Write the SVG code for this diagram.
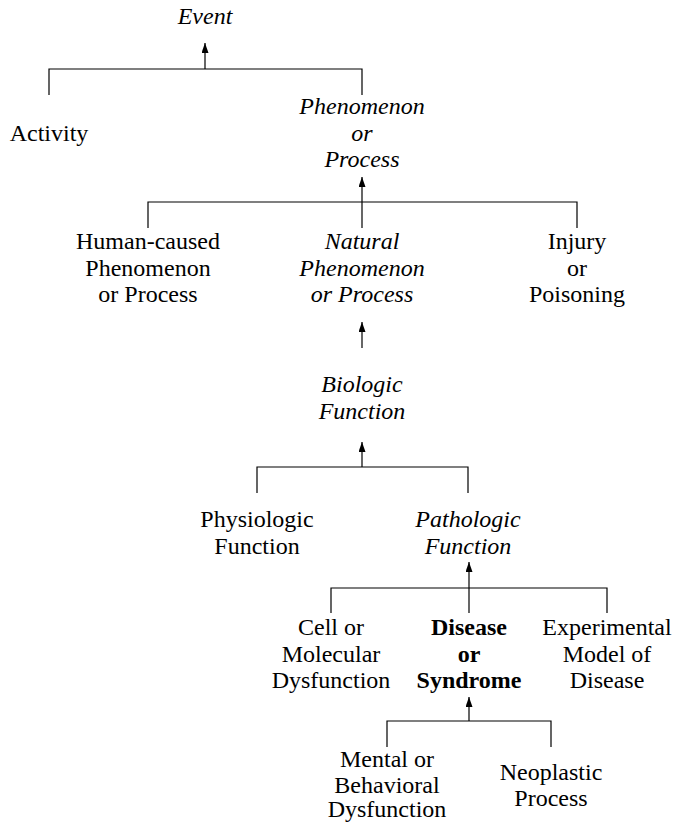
<svg xmlns="http://www.w3.org/2000/svg" width="674" height="823" viewBox="0 0 674 823">
  <style>
    .lbl text { font-size: 24px; fill: #000; text-anchor: middle; }
    .it { font-style: italic; }
    .bf { font-weight: bold; }
    .edge { fill: none; stroke: #000; stroke-width: 1.2; }
    .arrow { fill: none; stroke: #000; stroke-width: 1.2; marker-end: url(#head); }
  </style>
  <defs>
    <marker id="head" viewBox="0 0 10 7" refX="10" refY="3.5" markerWidth="10" markerHeight="7" orient="auto" markerUnits="userSpaceOnUse">
      <path d="M0,0 L10,3.5 L0,7 z" fill="#000"/>
    </marker>
  </defs>

  <g id="connectors">
    <!-- Event <- Activity, Phenomenon or Process -->
    <path class="edge" d="M49,95 V69 H362 V95"/>
    <path class="arrow" d="M205,69 V43"/>
    <!-- Phenomenon or Process <- three children -->
    <path class="edge" d="M148,228 V202 H577 V228"/>
    <path class="arrow" d="M362,228 V177"/>
    <!-- Natural Phenomenon -> Biologic Function link -->
    <path class="arrow" d="M362,348 V322"/>
    <!-- Biologic Function <- two children -->
    <path class="edge" d="M257,493 V467 H468 V493"/>
    <path class="arrow" d="M362,467 V442"/>
    <!-- Pathologic Function <- three children -->
    <path class="edge" d="M331,613 V588 H607 V613"/>
    <path class="arrow" d="M469,613 V562"/>
    <!-- Disease or Syndrome <- two children -->
    <path class="edge" d="M387,747 V721 H551 V747"/>
    <path class="arrow" d="M469,721 V697"/>
  </g>

  <g class="lbl" font-family="'Liberation Serif', 'DejaVu Serif', serif">
  <g id="event"><text class="it" x="205" y="24">Event</text></g>
  <g id="activity"><text x="49" y="141">Activity</text></g>
  <g id="phenomenon-or-process">
    <text class="it" x="362" y="114">Phenomenon</text>
    <text class="it" x="362" y="140.5">or</text>
    <text class="it" x="362" y="167">Process</text>
  </g>

  <g id="human-caused">
    <text x="148" y="249">Human-caused</text>
    <text x="148" y="275.5">Phenomenon</text>
    <text x="148" y="302">or Process</text>
  </g>
  <g id="natural-phenomenon">
    <text class="it" x="362" y="249">Natural</text>
    <text class="it" x="362" y="275.5">Phenomenon</text>
    <text class="it" x="362" y="302">or Process</text>
  </g>
  <g id="injury-or-poisoning">
    <text x="577" y="249">Injury</text>
    <text x="577" y="275.5">or</text>
    <text x="577" y="302">Poisoning</text>
  </g>

  <g id="biologic-function">
    <text class="it" x="362" y="392">Biologic</text>
    <text class="it" x="362" y="418.5">Function</text>
  </g>

  <g id="physiologic-function">
    <text x="257" y="527">Physiologic</text>
    <text x="257" y="553.5">Function</text>
  </g>
  <g id="pathologic-function">
    <text class="it" x="468" y="527">Pathologic</text>
    <text class="it" x="468" y="553.5">Function</text>
  </g>

  <g id="cell-molecular-dysfunction">
    <text x="331" y="635">Cell or</text>
    <text x="331" y="661.5">Molecular</text>
    <text x="331" y="688">Dysfunction</text>
  </g>
  <g id="disease-or-syndrome">
    <text class="bf" x="469" y="635">Disease</text>
    <text class="bf" x="469" y="661.5">or</text>
    <text class="bf" x="469" y="688">Syndrome</text>
  </g>
  <g id="experimental-model">
    <text x="607" y="635">Experimental</text>
    <text x="607" y="661.5">Model of</text>
    <text x="607" y="688">Disease</text>
  </g>

  <g id="mental-behavioral-dysfunction">
    <text x="387" y="767">Mental or</text>
    <text x="387" y="793">Behavioral</text>
    <text x="387" y="817">Dysfunction</text>
  </g>
  <g id="neoplastic-process">
    <text x="551" y="780">Neoplastic</text>
    <text x="551" y="806">Process</text>
  </g>
  </g>
</svg>
